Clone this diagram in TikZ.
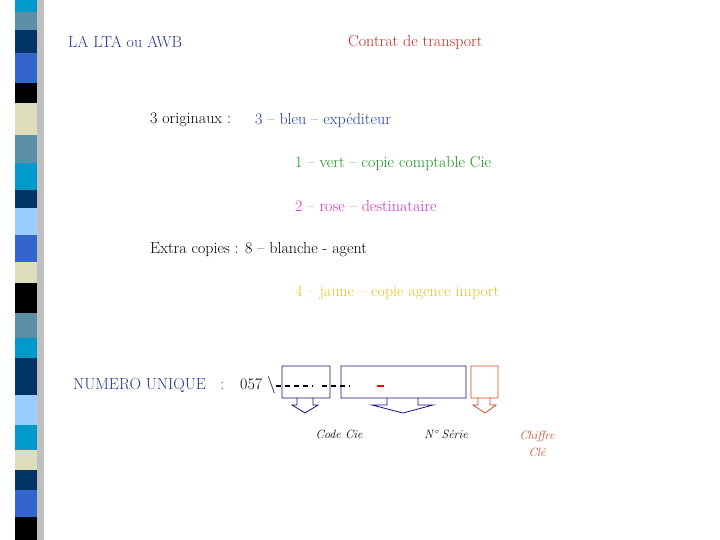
\documentclass[tikz,border=0pt]{standalone}
\usepackage{tikz}
\usetikzlibrary{positioning}
\definecolor{navyT}{HTML}{1F3A8A}
\definecolor{redT}{HTML}{C8281E}
\definecolor{blueT}{HTML}{1F3FA0}
\definecolor{greenT}{HTML}{119911}
\definecolor{roseT}{HTML}{D030C0}
\definecolor{yellowT}{HTML}{E8C020}
\definecolor{boxN}{HTML}{14147A}
\definecolor{boxO}{HTML}{D04A20}
\definecolor{sCyan}{HTML}{0099CC}
\definecolor{sSteel}{HTML}{5B8FA8}
\definecolor{sNavy}{HTML}{003366}
\definecolor{sBlue}{HTML}{3366CC}
\definecolor{sCream}{HTML}{DDDDBB}
\definecolor{sLight}{HTML}{99CCFF}
\begin{document}
\begin{tikzpicture}[x=1pt,y=-1pt,
    txt/.style={anchor=west,font=\fontsize{16}{18}\selectfont,inner sep=0pt},
    small/.style={anchor=center,font=\itshape\fontsize{12}{14}\selectfont,inner sep=0pt},
    callout/.style={line width=0.8pt},
    dashline/.style={line width=1.2pt,dash pattern=on 5pt off 4pt}]
\useasboundingbox (0,0) rectangle (720,540);
% left strip
\fill[black!25] (37,0) rectangle (44,540);
\foreach \a/\b/\c in {0/12/sCyan,12/30/sSteel,30/53/sNavy,53/83/sBlue,83/103/black,
  103/135/sCream,135/163/sSteel,163/190/sCyan,190/208/sNavy,208/235/sLight,
  235/262/sBlue,262/283/sCream,283/313/black,313/338/sSteel,338/358/sCyan,
  358/395/sNavy,395/425/sLight,425/450/sCyan,450/470/sCream,470/490/sNavy,
  490/517/sBlue,517/540/black}
  \fill[\c] (15,\a) rectangle (37,\b);

% titles
\node[txt,text=navyT] (lta) at (68,42) {LA LTA ou AWB};
\node[txt,text=redT] (contrat) at (348,42) {Contrat de transport};

% copies
\node[txt] (orig) at (150,120) {3 originaux :};
\node[txt,text=blueT] (bleu) at (255,120) {3 -- bleu -- exp\'editeur};
\node[txt,text=greenT] (vert) at (295,163) {1 -- vert -- copie comptable Cie};
\node[txt,text=roseT] (rose) at (295,206) {2 -- rose -- destinataire};
\node[txt] (extra) at (150,250) {Extra copies : 8 -- blanche - agent};
\node[txt,text=yellowT] (jaune) at (295,293) {4 -- jaune -- copie agence import};

% numero unique
\node[txt,text=navyT] (num) at (73,385) {NUMERO UNIQUE \ \ :};
\node[txt] (code) at (240,385) {057 $\backslash$};
\draw[dashline] (276,386) -- (313,386) (322,386) -- (350,386);
\draw[line width=1.2pt,red] (377,386) -- (384,386);

\draw[callout,draw=boxN] (282,366) rectangle (330,398)
  (297,398) -- (297,405) -- (292,405) -- (305,413) -- (318,405) -- (313,405) -- (313,398);
\draw[callout,draw=boxN] (341,366) rectangle (466,398)
  (387,398) -- (387,405) -- (372,405) -- (403,413) -- (433,405) -- (418,405) -- (418,398);
\draw[callout,draw=boxO] (471,366) rectangle (498,398)
  (478,398) -- (478,405) -- (473,405) -- (485,413) -- (496,405) -- (490,405) -- (490,398);

\node[small] (cie) at (339,434) {Code Cie};
\node[small] (serie) at (446,434) {N\textdegree{} S\'erie};
\node[small,text=boxO,align=center] (cle) at (537,444) {Chiffre\\[3pt]Cl\'e};
\end{tikzpicture}
\end{document}
